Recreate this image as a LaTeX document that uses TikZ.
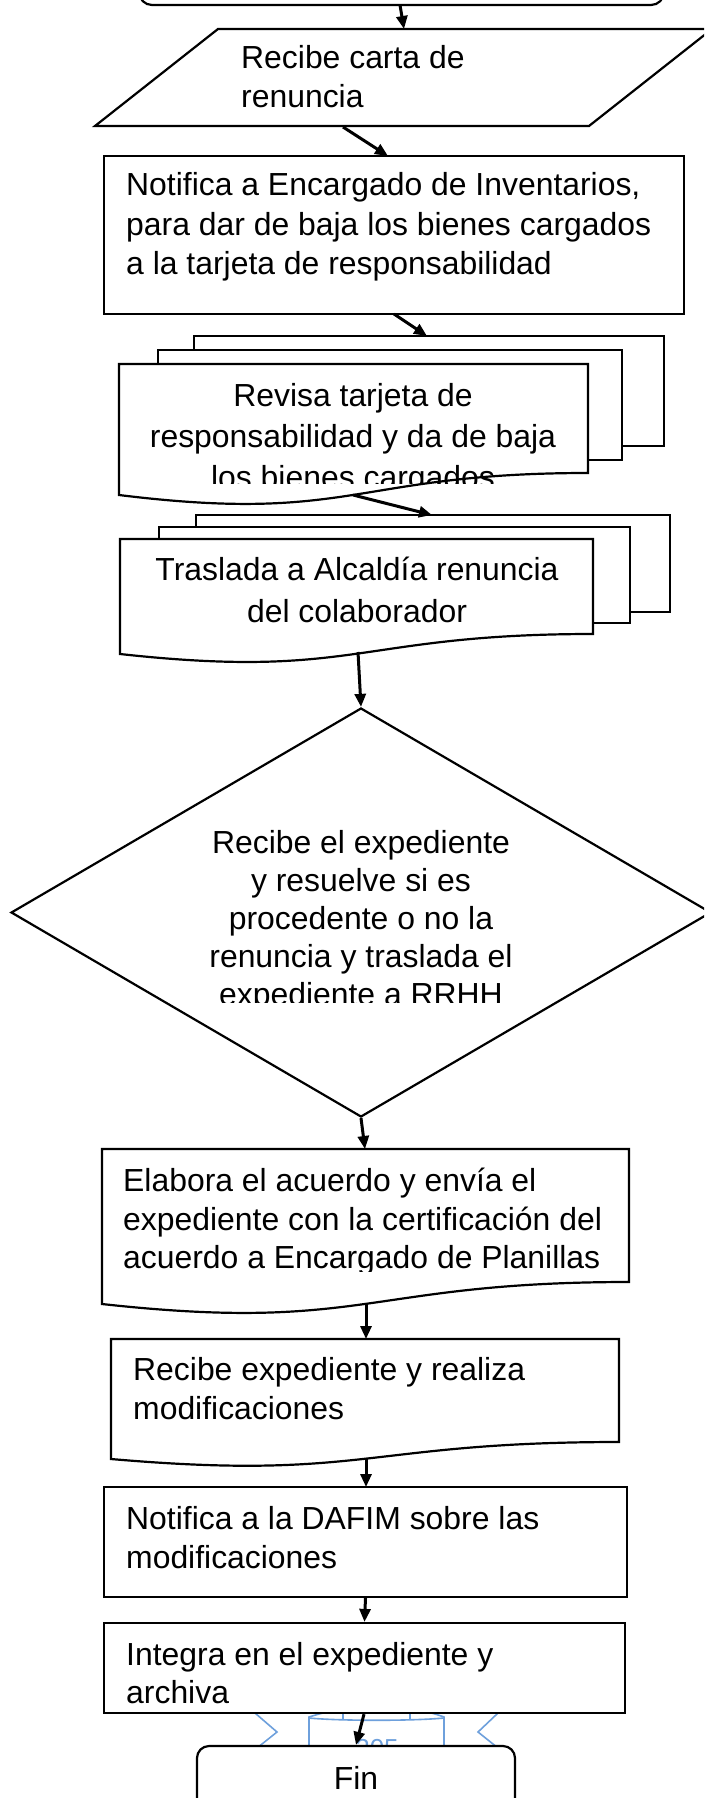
\documentclass[tikz,border=0pt]{standalone}
\usepackage{fontspec}
\setmainfont{Liberation Sans}
\usetikzlibrary{arrows.meta,shapes.geometric}
\definecolor{pgblue}{RGB}{110,160,220}
\begin{document}
\begin{tikzpicture}[x=1pt,y=-1pt,
  shapeline/.style={draw=black,line width=2.2pt,fill=white,line join=miter},
  conn/.style={draw=black,line width=3pt,-{Triangle[length=13pt,width=11pt]}},
  txt/.style={font=\fontsize{31.9}{38}\selectfont,inner sep=0pt,text=black},
  lt/.style={txt,anchor=base west},
  ct/.style={txt,anchor=base},
  blueline/.style={draw=pgblue,line width=1.6pt}]
\useasboundingbox (0,0) rectangle (704,1798);
\clip (0,0) rectangle (704,1798);
\fill[white] (0,0) rectangle (704,1798);

% start (cut off at top)
\node[shapeline,rounded corners=13pt,minimum width=525pt,minimum height=80pt,inner sep=0pt] (start) at (401.5,-35) {};

% parallelogram
\draw[shapeline] (218,29) -- (712,29) -- (589,126) -- (95,126) -- cycle;
\node[lt] (t1a) at (241,69) {Recibe carta de};
\node[lt] (t1b) at (241,108) {renuncia};

% rectangle 1
\node[shapeline,minimum width=580pt,minimum height=158pt,inner sep=0pt] (r1) at (394,235) {};
\node[lt] (t2a) at (126,196) {Notifica a Encargado de Inventarios,};
\node[lt] (t2b) at (126,235) {para dar de baja los bienes cargados};
\node[lt] (t2c) at (126,274) {a la tarjeta de responsabilidad};

% multidocument 1
\draw[shapeline] (194,336) rectangle (664,446);
\draw[shapeline] (158,350) rectangle (622,460);
\draw[shapeline] (119,364) -- (588,364) -- (588,473) .. controls (353.5,473) and (353.5,524) .. (119,495) -- cycle;
\begin{scope}
\clip (100,360) rectangle (600,483);
\node[ct] (t3a) at (353,406) {Revisa tarjeta de};
\node[ct] (t3b) at (353,447) {responsabilidad y da de baja};
\node[ct] (t3c) at (353,488) {los bienes cargados};
\end{scope}

% multidocument 2
\draw[shapeline] (196,515) rectangle (670,612);
\draw[shapeline] (159,527) rectangle (630,623);
\draw[shapeline] (120,539) -- (593,539) -- (593,634) .. controls (356.5,634) and (356.5,680) .. (120,654) -- cycle;
\node[ct] (t4a) at (357,580) {Traslada a Alcaldía renuncia};
\node[ct] (t4b) at (357,622) {del colaborador};

% decision
\node[shapeline,diamond,minimum width=700pt,minimum height=409pt,inner sep=0pt] (dec) at (361,912.5) {};
\begin{scope}
\clip (0,700) rectangle (704,1002);
\node[ct] (t5a) at (361,853) {Recibe el expediente};
\node[ct] (t5b) at (361,891) {y resuelve si es};
\node[ct] (t5c) at (361,929) {procedente o no la};
\node[ct] (t5d) at (361,967) {renuncia y traslada el};
\node[ct] (t5e) at (361,1005) {expediente a RRHH};
\end{scope}

% document 3
\draw[shapeline] (102,1149) -- (629,1149) -- (629,1282) .. controls (365.5,1282) and (365.5,1333) .. (102,1304) -- cycle;
\begin{scope}
\clip (100,1150) rectangle (628,1271);
\node[lt] (t6a) at (123,1191) {Elabora el acuerdo y envía el};
\node[lt] (t6b) at (123,1230) {expediente con la certificación del};
\node[lt] (t6c) at (123,1268) {acuerdo a Encargado de Planillas};
\end{scope}

% document 4
\draw[shapeline] (111,1339) -- (619,1339) -- (619,1442) .. controls (365,1442) and (365,1481) .. (111,1459) -- cycle;
\node[lt] (t7a) at (133,1380) {Recibe expediente y realiza};
\node[lt] (t7b) at (133,1419) {modificaciones};

% rectangle 5
\node[shapeline,minimum width=523pt,minimum height=110pt,inner sep=0pt] (r5) at (365.5,1542) {};
\node[lt] (t8a) at (126,1529) {Notifica a la DAFIM sobre las};
\node[lt] (t8b) at (126,1568) {modificaciones};

% page number artefact (light blue, behind)
\draw[blueline] (255,1713) -- (277,1732) -- (257,1748);
\draw[blueline] (498,1713) -- (478,1732) -- (498,1748);
\draw[blueline] (309,1760) -- (309,1717) .. controls (325,1712) and (330,1711) .. (343,1711) -- (410,1711) .. controls (425,1711) and (430,1712) .. (444,1717) -- (444,1760);
\draw[blueline] (309,1718) .. controls (340,1721) and (413,1721) .. (444,1718);
\draw[blueline] (343,1711) -- (343,1719) (410,1711) -- (410,1719);
\node[font=\fontsize{26}{30}\selectfont,text=pgblue,anchor=base,inner sep=0pt] (pnum) at (377,1757) {205};

% rectangle 6
\node[shapeline,minimum width=521pt,minimum height=90pt,inner sep=0pt] (r6) at (364.5,1668) {};
\node[lt] (t9a) at (126,1665) {Integra en el expediente y};
\node[lt] (t9b) at (126,1703) {archiva};

% end
\node[shapeline,rounded corners=12pt,minimum width=318pt,minimum height=120pt,inner sep=0pt] (fin) at (356,1806) {};
\node[ct] (tfin) at (356,1789) {Fin};

% connector end points
\coordinate (a1s) at (400,5);    \coordinate (a1e) at (404,29);
\coordinate (a2s) at (343,127);  \coordinate (a2e) at (388,156);
\coordinate (a3s) at (394,314);  \coordinate (a3e) at (427,336);
\coordinate (a4s) at (353,495);  \coordinate (a4e) at (432,515);
\coordinate (a5s) at (358,652);  \coordinate (a5e) at (dec.north);
\coordinate (a6s) at (dec.south); \coordinate (a6e) at (365,1149);
\coordinate (a7s) at (366,1304); \coordinate (a7e) at (366,1339);
\coordinate (a8s) at (366,1459); \coordinate (a8e) at (366,1487);

\draw[conn] (a1s) -- (a1e);
\draw[conn] (a2s) -- (a2e);
\draw[conn] (a3s) -- (a3e);
\draw[conn] (a4s) -- (a4e);
\draw[conn] (a5s) -- (a5e);
\draw[conn] (a6s) -- (a6e);
\draw[conn] (a7s) -- (a7e);
\draw[conn] (a8s) -- (a8e);
\draw[conn] (r5.south) -- (r6.north);
\draw[conn] ([xshift=-0.5pt]r6.south) -- (fin.north);
\end{tikzpicture}
\end{document}
